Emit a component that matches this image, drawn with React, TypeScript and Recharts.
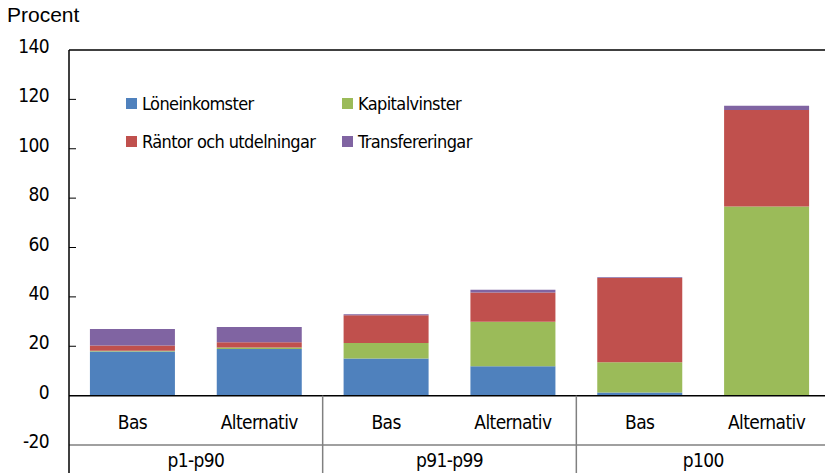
import { BarChart, Bar, XAxis, YAxis, ReferenceLine } from 'recharts'

const categories = ['Bas', 'Alternativ', 'Bas', 'Alternativ', 'Bas', 'Alternativ']
const groups = ['p1-p90', 'p1-p90', 'p91-p99', 'p91-p99', 'p100', 'p100']
const loneinkomster = [17.9, 18.9, 15.0, 11.9, 1.3, 0.2]
const kapitalvinster = [0.3, 0.6, 6.3, 18.0, 12.2, 76.4]
const rantor = [2.1, 2.1, 11.3, 11.9, 34.1, 39.1]
const transfereringar = [6.7, 6.2, 0.4, 1.1, 0.4, 1.7]
const yTicks = [-20, 0, 20, 40, 60, 80, 100, 120, 140]

const series = [
  { key: 'lon', name: 'Löneinkomster', color: '#4F81BD' },
  { key: 'kap', name: 'Kapitalvinster', color: '#9BBB59' },
  { key: 'ran', name: 'Räntor och utdelningar', color: '#C0504D' },
  { key: 'tra', name: 'Transfereringar', color: '#8064A2' },
]

const data = categories.map((c, i) => ({
  cat: c,
  group: groups[i],
  lon: loneinkomster[i],
  kap: kapitalvinster[i],
  ran: rantor[i],
  tra: transfereringar[i],
}))

const FONT = "'DejaVu Sans Condensed', 'DejaVu Sans', sans-serif"
const narrow = { fontStretch: 'condensed' as const, letterSpacing: '-0.6px' }
const W = 835
const H = 473
const M = { top: 50, right: 5, bottom: 0, left: 0 }
const Y_W = 69
const X_H = 28
const BAND = (W - M.right - Y_W) / categories.length
const PLOT_H = H - M.top - X_H
const ZERO_OFF = (PLOT_H * 20) / 160

function YTick(props: any) {
  const { x, y, payload } = props
  const v = payload.value
  return (
    <g>
      <text x={x - 20} y={y + 3} textAnchor="end" fontFamily={FONT} fontSize={19} style={narrow} fill="#000">
        {v}
      </text>
      {v > 0 && v < 140 && <line x1={x} x2={x + 7} y1={y} y2={y} stroke="#000" strokeWidth={1} />}
    </g>
  )
}

function XTick(props: any) {
  const { x, y, payload, index } = props
  const left = x - BAND / 2
  return (
    <g>
      <text x={x} y={y - 16} textAnchor="middle" fontFamily={FONT} fontSize={19} style={narrow} fill="#000">
        {payload.value}
      </text>
      {index % 2 === 0 && (
        <text x={x + BAND / 2} y={y + 22} textAnchor="middle" fontFamily={FONT} fontSize={19} style={narrow} fill="#000">
          {groups[index]}
        </text>
      )}
      {index === 0 && <line x1={left} x2={left} y1={y} y2={y + 40} stroke="#000" strokeWidth={1.5} />}
      {index % 2 === 0 && index > 0 && (
        <line x1={left} x2={left} y1={y - ZERO_OFF} y2={y + 40} stroke="#808080" strokeWidth={1.5} />
      )}
    </g>
  )
}

function LegendBox() {
  return (
    <div
      style={{
        position: 'absolute',
        left: 126,
        top: 91,
        display: 'grid',
        gridTemplateColumns: '216px 216px',
        rowGap: 14,
        fontFamily: FONT,
        fontStretch: 'condensed',
        letterSpacing: '-0.6px',
        fontSize: 18,
        color: '#000',
        whiteSpace: 'nowrap',
      }}
    >
      {series.map((s) => (
        <div key={s.key} style={{ display: 'flex', alignItems: 'center', height: 24 }}>
          <span style={{ width: 11, height: 11, background: s.color, marginRight: 5, display: 'inline-block' }} />
          <span>{s.name}</span>
        </div>
      ))}
    </div>
  )
}

export default function App() {
  return (
    <div style={{ position: 'fixed', left: 0, top: 0, width: 825, height: 473, overflow: 'hidden', background: '#fff' }}>
      <div
        style={{
          position: 'absolute',
          left: 7,
          top: 3,
          fontFamily: "'Liberation Sans', Arial, sans-serif",
          fontSize: 21,
          color: '#000',
        }}
      >
        Procent
      </div>
      <BarChart width={W} height={H} data={data} margin={M} barCategoryGap="16.5%" stackOffset="sign">
        <XAxis
          dataKey="cat"
          height={X_H}
          interval={0}
          tickSize={0}
          tickMargin={0}
          tickLine={false}
          axisLine={{ stroke: '#808080', strokeWidth: 1.5 }}
          tick={<XTick />}
        />
        <YAxis
          width={Y_W}
          domain={[-20, 140]}
          ticks={yTicks}
          interval={0}
          tickSize={0}
          tickMargin={0}
          tickLine={false}
          axisLine={{ stroke: '#000', strokeWidth: 1.5 }}
          tick={<YTick />}
          allowDataOverflow
        />
        {series.map((s) => (
          <Bar key={s.key} dataKey={s.key} name={s.name} stackId="a" fill={s.color} isAnimationActive={false} />
        ))}
        <ReferenceLine y={0} stroke="#000" strokeWidth={1.5} />
        <ReferenceLine y={140} stroke="#000" strokeWidth={1.5} />
      </BarChart>
      <LegendBox />
    </div>
  )
}
